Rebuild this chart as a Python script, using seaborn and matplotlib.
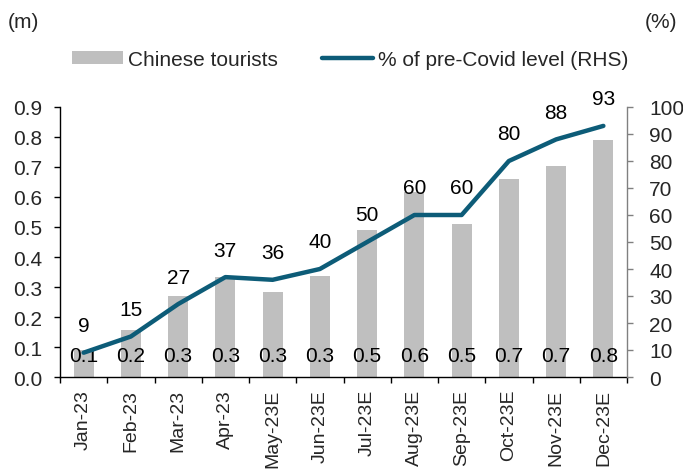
import numpy as np
import pandas as pd
import matplotlib
matplotlib.use("Agg")
import matplotlib.pyplot as plt
import seaborn as sns
from matplotlib.patches import Patch
from matplotlib.lines import Line2D

# Monthly Chinese tourist arrivals (million) and recovery vs. pre-Covid (%)
months = ["Jan-23", "Feb-23", "Mar-23", "Apr-23", "May-23E", "Jun-23E",
          "Jul-23E", "Aug-23E", "Sep-23E", "Oct-23E", "Nov-23E", "Dec-23E"]
tourists_m = [0.089, 0.157, 0.271, 0.334, 0.285, 0.338,
              0.489, 0.617, 0.509, 0.661, 0.702, 0.789]
pct_pre_covid = [9, 15, 27, 37, 36, 40, 50, 60, 60, 80, 88, 93]
left_ticks = [0.0, 0.1, 0.2, 0.3, 0.4, 0.5, 0.6, 0.7, 0.8, 0.9]
right_ticks = [0, 10, 20, 30, 40, 50, 60, 70, 80, 90, 100]

BAR_COLOR = "#BFBFBF"
LINE_COLOR = "#0D5C78"
FS = 15

sns.set_style("white")
plt.rcParams["font.family"] = ["Liberation Sans", "DejaVu Sans"]

df = pd.DataFrame({"month": months, "tourists": tourists_m, "pct": pct_pre_covid})
df["pos"] = np.arange(len(df))

fig = plt.figure(figsize=(6.83, 4.77), dpi=100)
ax = fig.add_axes([60 / 683, 1 - 378 / 477, 567 / 683, 270 / 477])

sns.barplot(data=df, x="month", y="tourists", color=BAR_COLOR, width=0.42,
            saturation=1, linewidth=0, ax=ax)

# value labels sitting near the base of each bar
for i, v in enumerate(df["tourists"]):
    ax.text(i, 0.071, f"{v:.1f}", ha="center", va="center", fontsize=FS, color="black")

ax.set_ylim(0, 0.9)
ax.set_yticks(left_ticks)
ax.set_yticklabels([f"{t:.1f}" for t in left_ticks], fontsize=FS)
ax.set_xlim(-0.5, len(months) - 0.5)
ax.set_xticks(df["pos"])
ax.set_xticklabels(months, rotation=90, fontsize=14)
ax.set_xticks(np.arange(-0.5, len(months), 1.0), minor=True)
ax.tick_params(axis="x", which="major", length=0, pad=8.5, bottom=True)
ax.tick_params(axis="x", which="minor", length=4.5, width=1, color="black",
               direction="out", bottom=True)
ax.tick_params(axis="y", which="major", length=4, width=1, color="black",
               direction="out", left=True, pad=9)
ax.set_xlabel("")
ax.set_ylabel("")
for side in ["top", "right"]:
    ax.spines[side].set_visible(False)
for side in ["left", "bottom"]:
    ax.spines[side].set_color("black")
    ax.spines[side].set_linewidth(1)

ax2 = ax.twinx()
sns.lineplot(data=df, x="pos", y="pct", color=LINE_COLOR, linewidth=3.2,
             ax=ax2, legend=False, solid_capstyle="round", solid_joinstyle="round")
for x, y in zip(df["pos"], df["pct"]):
    ax2.annotate(f"{y:d}", (x, y), xytext=(0, 19.5), textcoords="offset points",
                 ha="center", va="center", fontsize=FS, color="black")
ax2.set_ylim(0, 100)
ax2.set_yticks(right_ticks)
ax2.set_yticklabels([str(t) for t in right_ticks], fontsize=FS)
ax2.set_xlim(-0.5, len(months) - 0.5)
ax2.set_xlabel("")
ax2.set_ylabel("")
ax2.tick_params(axis="y", which="major", length=4, width=1, color="#808080",
                direction="out", right=True, left=False, pad=12)
for side in ["top", "left", "bottom"]:
    ax2.spines[side].set_visible(False)
ax2.spines["right"].set_color("#808080")
ax2.spines["right"].set_linewidth(1)

fig.text(8 / 683, 1 - 22 / 477, "(m)", ha="left", va="center", fontsize=FS)
fig.text(677 / 683, 1 - 22 / 477, "(%)", ha="right", va="center", fontsize=FS)

handles = [Patch(facecolor=BAR_COLOR, edgecolor="none"),
           Line2D([], [], color=LINE_COLOR, linewidth=3.2, solid_capstyle="round")]
fig.legend(handles, ["Chinese tourists", "% of pre-Covid level (RHS)"],
           loc="center left", bbox_to_anchor=(72 / 683, 1 - 60 / 477),
           ncol=2, frameon=False, fontsize=FS, borderpad=0, borderaxespad=0,
           handlelength=2.45, handleheight=0.6, handletextpad=0.25,
           columnspacing=2.1)

fig.savefig("out.png", dpi=100)
